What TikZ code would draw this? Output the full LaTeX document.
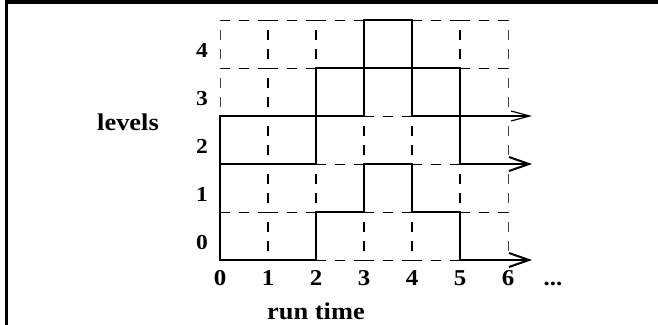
\documentclass[tikz,border=0pt]{standalone}
\usepackage{fontspec}
\setmainfont{Liberation Serif}[FakeStretch=1.1]
\usetikzlibrary{arrows.meta}
\begin{document}
\begin{tikzpicture}[x=0.75pt,y=-0.75pt,
  gridh/.style={line width=0.75pt, dash pattern=on 7.5pt off 6.75pt},
  gridv/.style={line width=1.5pt, dash pattern=on 7.5pt off 6.75pt, dash phase=7.5pt},
  gridvthin/.style={gridv, line width=0.75pt, draw=black!75},
  trace/.style={line width=1.5pt, line join=miter},
  tracethin/.style={line width=0.9pt, line join=miter},
  bigtip/.style={-{Straight Barb[length=15pt,width=10.5pt]}},
  smalltip/.style={-{Straight Barb[length=14pt,width=7.5pt]}},
  lab/.style={inner sep=0pt, anchor=base, font=\bfseries\fontsize{18pt}{20pt}\selectfont},
  xlab/.style={inner sep=0pt, anchor=base, font=\bfseries\fontsize{17pt}{19pt}\selectfont},
  ylab/.style={inner sep=0pt, anchor=base, font=\bfseries\fontsize{16pt}{18pt}\selectfont}]
\useasboundingbox (0,0) rectangle (658,325);
% frame (top and left edges)
\draw[line width=3pt] (5,2) -- (658,2);
\draw[line width=2.25pt] (6.5,0) -- (6.5,325);
% horizontal dashed grid segments
\foreach \yy/\cc in {20/0,20/1,20/2,20/4,20/5,
                     68/0,68/1,68/5,
                     116/3,
                     164/2,164/4,
                     212/0,212/1,212/3,212/5,
                     260/2,260/3,260/4}
  \draw[gridh] ({220+48*\cc},\yy) -- ++(48,0);
% vertical dashed grid segments
\foreach \cc/\rr in {1/0,1/1,1/2,1/3,1/4,
                     2/1,2/4,
                     3/0,3/2,
                     4/0,4/2,
                     5/1,5/4}
  \draw[gridv] ({220+48*\cc},{260-48*\rr}) -- ++(0,-48);
\foreach \cc/\rr in {0/3,0/4,6/0,6/1,6/2,6/3,6/4}
  \draw[gridvthin] ({220+48*\cc},{260-48*\rr}) -- ++(0,-48);
% level traces
\draw[trace,bigtip] (220,164) -- (220,260) -- (316,260) -- (316,212) -- (364,212)
  -- (364,164) -- (412,164) -- (412,212) -- (460,212) -- (460,260) -- (532,260);
\draw[trace,bigtip] (220,164) -- (316,164) -- (316,116) -- (364,116)
  -- (364,68) -- (412,68) -- (412,116) -- (460,116) -- (460,164) -- (532,164);
\draw[tracethin,smalltip] (220,164) -- (220,116) -- (316,116) -- (316,68) -- (364,68)
  -- (364,20) -- (412,20) -- (412,68) -- (460,68) -- (460,116) -- (532,116);
% level labels
\foreach \k in {0,...,4}
  \node[ylab] (lev\k) at (202,{249-48*\k}) {\k};
% time labels
\foreach \k in {0,...,6}
  \node[xlab] (t\k) at ({220+48*\k},285) {\k};
\node[xlab] (tdots) at (553,285) {...};
\node[lab] (levels) at (128,130) {levels};
\node[lab] (runtime) at (316,319) {run time};
\end{tikzpicture}
\end{document}
